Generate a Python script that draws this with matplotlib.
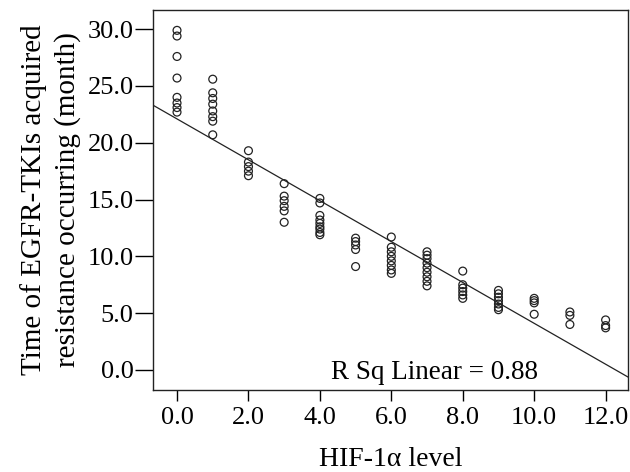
import numpy as np
import matplotlib

matplotlib.use("Agg", force=True)
import matplotlib.pyplot as plt

plt.rcParams["font.family"] = ["Liberation Serif", "DejaVu Serif"]

# HIF-1alpha level groups and the observed resistance times (months)
levels = [0, 1, 2, 3, 4, 5, 6, 7, 8, 9, 10, 11, 12]
months = [
    [29.9, 29.4, 27.6, 25.7, 24.0, 23.5, 23.1, 22.7],
    [25.6, 24.4, 23.9, 23.4, 22.8, 22.3, 21.9, 20.7],
    [19.3, 18.3, 17.9, 17.5, 17.1],
    [16.4, 15.3, 14.9, 14.4, 14.0, 13.0],
    [15.1, 14.7, 13.6, 13.2, 12.9, 12.6, 12.4, 12.1, 11.9],
    [11.6, 11.3, 11.0, 10.6, 9.1],
    [11.7, 10.8, 10.4, 10.0, 9.6, 9.2, 8.8, 8.5],
    [10.4, 10.1, 9.8, 9.4, 9.0, 8.6, 8.2, 7.8, 7.4],
    [8.7, 7.5, 7.2, 6.9, 6.6, 6.3],
    [7.0, 6.7, 6.4, 6.1, 5.8, 5.5, 5.3],
    [6.3, 6.1, 5.9, 4.9],
    [5.1, 4.8, 4.0],
    [4.4, 3.9, 3.7],
]
# fitted linear trend (intercept, slope) and its R squared label
fit_intercept = 22.1
fit_slope = -1.8
r_sq_label = "R Sq Linear = 0.88"
x_ticks = [0, 2, 4, 6, 8, 10, 12]
y_ticks = [0, 5, 10, 15, 20, 25, 30]

xs = np.concatenate([[lv] * len(m) for lv, m in zip(levels, months)]).astype(float)
ys = np.concatenate(months)

fig = plt.figure(figsize=(6.3, 4.72), dpi=100)
ax = fig.add_axes([0.243, 0.174, 0.754, 0.805])

xlim = (-0.67, 12.63)
ax.scatter(xs, ys, s=32, facecolors="none", edgecolors="#222222", linewidths=0.9, zorder=3)
line_x = np.array(xlim)
ax.plot(line_x, fit_intercept + fit_slope * line_x, color="#222222", linewidth=0.9, zorder=2)

ax.set_xlim(*xlim)
ax.set_ylim(-1.76, 31.7)
ax.set_xticks(x_ticks)
ax.set_xticklabels([f"{t:.1f}" for t in x_ticks])
ax.set_yticks(y_ticks)
ax.set_yticklabels([f"{t:.1f}" for t in y_ticks])
ax.tick_params(axis="x", direction="out", length=8, width=1, labelsize=19, pad=4)
ax.tick_params(axis="y", direction="out", length=13, width=1, labelsize=19, pad=1)
for sp in ax.spines.values():
    sp.set_linewidth(1)
    sp.set_color("#222222")

ax.set_xlabel("HIF-1\u03b1 level", fontsize=20, labelpad=13)
ax.set_ylabel("Time of EGFR-TKIs acquired\nresistance occurring (month)", fontsize=21,
              linespacing=1.3, labelpad=5)
ax.text(7.2, -0.25, r_sq_label, fontsize=19.5, ha="center", va="center")

fig.savefig("out.png", dpi=100)
